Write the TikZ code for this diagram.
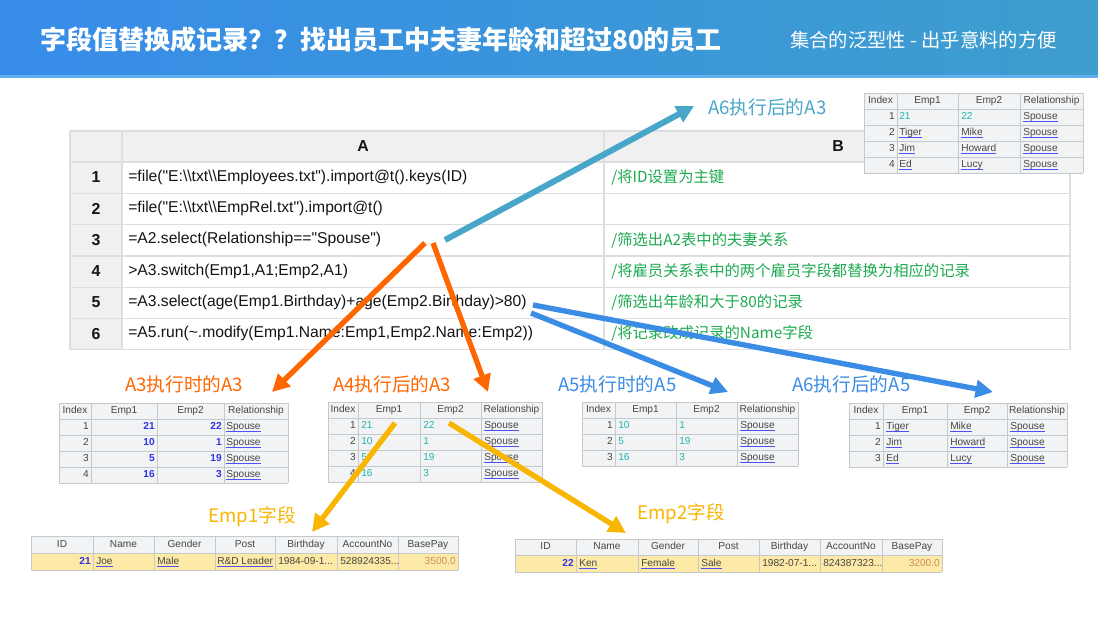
\documentclass[tikz,border=0pt]{standalone}
\usepackage{fontspec}
\setmainfont{Liberation Sans}
\newfontfamily\codefont{Liberation Sans}
\newfontfamily\cjk{Noto Sans CJK SC}
\usetikzlibrary{arrows.meta}

\definecolor{hdrleft}{RGB}{55,140,233}
\definecolor{hdrright}{RGB}{62,158,205}
\definecolor{hdrline}{RGB}{100,175,240}
\definecolor{hdrgray}{RGB}{240,240,240}
\definecolor{maingrid}{RGB}{220,222,224}
\definecolor{codeblack}{RGB}{20,20,20}
\definecolor{cmtgreen}{RGB}{30,170,80}
\definecolor{tabbg}{RGB}{242,243,244}
\definecolor{tabgridc}{RGB}{196,201,205}
\definecolor{celltext}{RGB}{70,70,70}
\definecolor{numblue}{RGB}{50,50,230}
\definecolor{tealnum}{RGB}{35,180,180}
\definecolor{linkblue}{RGB}{80,80,245}
\definecolor{payrow}{RGB}{253,234,166}
\definecolor{paybrown}{RGB}{200,140,100}
\definecolor{orangec}{RGB}{255,102,0}
\definecolor{tealc}{RGB}{72,166,200}
\definecolor{bluec}{RGB}{58,140,228}
\definecolor{yellowc}{RGB}{248,182,0}

\newcommand{\lnk}[1]{\setbox0\hbox{#1}\rlap{\textcolor{linkblue}{\rule[-1.9pt]{\wd0}{0.75pt}}}\box0}
\newcommand{\bs}{\textbackslash}

% grid of a small table: x0, y0, x1, y1, column xs, row ys
\newcommand{\tabgrid}[6]{%
  \foreach \gx in {#5} {\draw[tabline] (\gx,#2) -- (\gx,#4);}
  \foreach \gy in {#6} {\draw[tabline] (#1,\gy) -- (#3,\gy);}
}

\begin{document}
\begin{tikzpicture}[
  x=0.75pt, y=-0.75pt,
  codetxt/.style={anchor=west, inner sep=0pt, text height=8.6pt, text depth=2.5pt,
    font=\codefont\fontsize{11.75}{14}\selectfont, text=codeblack},
  cmttxt/.style={anchor=west, inner sep=0pt, font=\cjk\fontsize{11.5}{14}\selectfont, text=cmtgreen},
  rownum/.style={inner sep=0pt, font=\fontsize{11.9}{14}\selectfont\bfseries, text=codeblack},
  cell/.style={inner sep=0pt, text height=5.6pt, text depth=1.6pt,
    font=\fontsize{7.6}{9}\selectfont, text=celltext},
  cellr/.style={cell, anchor=east},
  celll/.style={cell, anchor=west},
  numcell/.style={cellr, text=numblue, font=\fontsize{7.6}{9}\selectfont\bfseries},
  tealcell/.style={celll, text=tealnum},
  notetxt/.style={anchor=west, inner sep=0pt, font=\cjk\fontsize{14}{16}\selectfont},
  mainline/.style={draw=maingrid, line width=0.9pt},
  tabline/.style={draw=tabgridc, line width=0.7pt},
  bigarrow/.style={line width=4pt, -{Triangle[length=13pt,width=13pt]}},
]
  \useasboundingbox[fill=white] (0,0) rectangle (1098,617);

  % header band
  \shade[left color=hdrleft, right color=hdrright] (0,0) rectangle (1098,77);
  \fill[hdrline] (0,75) rectangle (1098,78);
  \node[anchor=west, inner sep=0pt, text=white, font=\cjk\bfseries\fontsize{19.5}{22}\selectfont]
    (title) at (40,40) {字段值替换成记录？？找出员工中夫妻年龄和超过80的员工};
  \node[anchor=west, inner sep=0pt, text=white, font=\cjk\fontsize{14.5}{17}\selectfont]
    (subtitle) at (790,40) {集合的泛型性 - 出乎意料的方便};

  % main table
  \fill[hdrgray] (70,131) rectangle (1070,162);
  \fill[hdrgray] (70,162) rectangle (122,349.8);
  \foreach \y in {131,162,193.3,224.6,255.9,287.2,318.5,349.8}
    \draw[mainline] (70,\y) -- (1070,\y);
  \foreach \x in {70,122,604,1070}
    \draw[mainline] (\x,131) -- (\x,349.8);
  \node[rownum] (colA) at (363,146) {A};
  \node[rownum] (colB) at (838,146) {B};
  \foreach \r in {1,...,6}
    \node[rownum] (n\r) at (96,{146+31.3*\r}) {\r};

  \node[codetxt] (a1) at (128,177.3) {=file("E:\bs\bs txt\bs\bs Employees.txt").import@t().keys(ID)};
  \node[codetxt] (a2) at (128,208.6) {=file("E:\bs\bs txt\bs\bs EmpRel.txt").import@t()};
  \node[codetxt] (a3) at (128,239.9) {=A2.select(Relationship=="Spouse")};
  \node[codetxt] (a4) at (128,271.2) {>A3.switch(Emp1,A1;Emp2,A1)};
  \node[codetxt] (a5) at (128,302.5) {=A3.select(age(Emp1.Birthday)+age(Emp2.Birthday)>80)};
  \node[codetxt] (a6) at (128,333.8) {=A5.run(\textasciitilde.modify(Emp1.Name:Emp1,Emp2.Name:Emp2))};

  \node[cmttxt] (b1) at (611,177.3) {/将ID设置为主键};
  \node[cmttxt] (b3) at (611,239.9) {/筛选出A2表中的夫妻关系};
  \node[cmttxt] (b4) at (611,271.2) {/将雇员关系表中的两个雇员字段都替换为相应的记录};
  \node[cmttxt] (b5) at (611,302.5) {/筛选出年龄和大于80的记录};
  \node[cmttxt] (b6) at (611,333.8) {/将记录改成记录的Name字段};

  % A6 result of A3, top right
  \fill[tabbg] (864,93) rectangle (1083,173);
  \tabgrid{864}{93}{1083}{173}{864,897,958,1020,1083}{93,109,125,141,157,173}
  \foreach \h/\cx [count=\i] in {Index/880.5, Emp1/927.5, Emp2/989, Relationship/1051.5}
    \node[cell] (t0h\i) at (\cx,101) {\h};
  \node[cellr] (t0i1) at (895,117) {1};
  \node[tealcell] (t0a1) at (899,117) {21};
  \node[tealcell] (t0b1) at (961,117) {22};
  \node[celll] (t0c1) at (1023,117) {\lnk{Spouse}};
  \foreach \r/\p/\q in {2/Tiger/Mike, 3/Jim/Howard, 4/Ed/Lucy} {
    \node[cellr] (t0i\r) at (895,{101+16*\r}) {\r};
    \node[celll] (t0a\r) at (899,{101+16*\r}) {\lnk{\p}};
    \node[celll] (t0b\r) at (961,{101+16*\r}) {\lnk{\q}};
    \node[celll] (t0c\r) at (1023,{101+16*\r}) {\lnk{Spouse}};
  }

  % A3 while running
  \fill[tabbg] (59,403) rectangle (288,483);
  \tabgrid{59}{403}{288}{483}{59,91,157,224,288}{403,419,435,451,467,483}
  \foreach \h/\cx [count=\i] in {Index/75, Emp1/124, Emp2/190.5, Relationship/256}
    \node[cell] (t1h\i) at (\cx,411) {\h};
  \foreach \r/\p/\q in {1/21/22, 2/10/1, 3/5/19, 4/16/3} {
    \node[cellr] (t1i\r) at (89,{411+16*\r}) {\r};
    \node[numcell] (t1a\r) at (155,{411+16*\r}) {\p};
    \node[numcell] (t1b\r) at (222,{411+16*\r}) {\q};
    \node[celll] (t1c\r) at (226,{411+16*\r}) {\lnk{Spouse}};
  }

  % A3 after A4
  \fill[tabbg] (328,402) rectangle (542,482);
  \tabgrid{328}{402}{542}{482}{328,358,420,481,542}{402,418,434,450,466,482}
  \foreach \h/\cx [count=\i] in {Index/343, Emp1/389, Emp2/450.5, Relationship/511.5}
    \node[cell] (t2h\i) at (\cx,410) {\h};
  \foreach \r/\p/\q in {1/21/22, 2/10/1, 3/5/19, 4/16/3} {
    \node[cellr] (t2i\r) at (356,{410+16*\r}) {\r};
    \node[tealcell] (t2a\r) at (361,{410+16*\r}) {\p};
    \node[tealcell] (t2b\r) at (423,{410+16*\r}) {\q};
    \node[celll] (t2c\r) at (484,{410+16*\r}) {\lnk{Spouse}};
  }

  % A5 while running
  \fill[tabbg] (582,402) rectangle (798,466);
  \tabgrid{582}{402}{798}{466}{582,615,676,737,798}{402,418,434,450,466}
  \foreach \h/\cx [count=\i] in {Index/598.5, Emp1/645.5, Emp2/706.5, Relationship/767.5}
    \node[cell] (t3h\i) at (\cx,410) {\h};
  \foreach \r/\p/\q in {1/10/1, 2/5/19, 3/16/3} {
    \node[cellr] (t3i\r) at (613,{410+16*\r}) {\r};
    \node[tealcell] (t3a\r) at (618,{410+16*\r}) {\p};
    \node[tealcell] (t3b\r) at (679,{410+16*\r}) {\q};
    \node[celll] (t3c\r) at (740,{410+16*\r}) {\lnk{Spouse}};
  }

  % A5 after A6
  \fill[tabbg] (849,403) rectangle (1067,467);
  \tabgrid{849}{403}{1067}{467}{849,883,947,1007,1067}{403,419,435,451,467}
  \foreach \h/\cx [count=\i] in {Index/866, Emp1/915, Emp2/977, Relationship/1037}
    \node[cell] (t4h\i) at (\cx,411) {\h};
  \foreach \r/\p/\q in {1/Tiger/Mike, 2/Jim/Howard, 3/Ed/Lucy} {
    \node[cellr] (t4i\r) at (881,{411+16*\r}) {\r};
    \node[celll] (t4a\r) at (886,{411+16*\r}) {\lnk{\p}};
    \node[celll] (t4b\r) at (950,{411+16*\r}) {\lnk{\q}};
    \node[celll] (t4c\r) at (1010,{411+16*\r}) {\lnk{Spouse}};
  }

  % Emp1 record
  \fill[tabbg] (31,536) rectangle (458,553);
  \fill[payrow] (31,553) rectangle (458,570);
  \tabgrid{31}{536}{458}{570}{31,93,154,215,275,337,398,458}{536,553,570}
  \foreach \h/\cx [count=\i] in {ID/62, Name/123.5, Gender/184.5, Post/245, Birthday/306, AccountNo/367.5, BasePay/428}
    \node[cell] (t5h\i) at (\cx,544.5) {\h};
  \node[numcell] (t5v1) at (91,561.5) {21};
  \node[celll] (t5v2) at (96,561.5) {\lnk{Joe}};
  \node[celll] (t5v3) at (157,561.5) {\lnk{Male}};
  \node[celll] (t5v4) at (217,561.5) {\lnk{R\&D Leader}};
  \node[celll] (t5v5) at (278,561.5) {1984-09-1...};
  \node[celll] (t5v6) at (340,561.5) {528924335...};
  \node[cellr, text=paybrown] (t5v7) at (456,561.5) {3500.0};

  % Emp2 record
  \fill[tabbg] (515,539) rectangle (942,555);
  \fill[payrow] (515,555) rectangle (942,572);
  \tabgrid{515}{539}{942}{572}{515,576,638,698,759,820,882,942}{539,555,572}
  \foreach \h/\cx [count=\i] in {ID/545.5, Name/607, Gender/668, Post/728.5, Birthday/789.5, AccountNo/851, BasePay/912}
    \node[cell] (t6h\i) at (\cx,547) {\h};
  \node[numcell] (t6v1) at (574,563.5) {22};
  \node[celll] (t6v2) at (579,563.5) {\lnk{Ken}};
  \node[celll] (t6v3) at (641,563.5) {\lnk{Female}};
  \node[celll] (t6v4) at (701,563.5) {\lnk{Sale}};
  \node[celll] (t6v5) at (762,563.5) {1982-07-1...};
  \node[celll] (t6v6) at (823,563.5) {824387323...};
  \node[cellr, text=paybrown] (t6v7) at (940,563.5) {3200.0};

  % captions
  \node[notetxt, text=tealc] (capA6A3) at (708,107) {A6执行后的A3};
  \node[notetxt, text=orangec] (capA3) at (125,384) {A3执行时的A3};
  \node[notetxt, text=orangec] (capA4) at (333,384) {A4执行后的A3};
  \node[notetxt, text=bluec] (capA5) at (558,384) {A5执行时的A5};
  \node[notetxt, text=bluec] (capA6A5) at (792,384) {A6执行后的A5};
  \node[notetxt, text=yellowc] (capE1) at (208,517) {Emp1字段};
  \node[notetxt, text=yellowc] (capE2) at (637,514) {Emp2字段};

  % arrows
  \coordinate (s1) at (445,240);  \coordinate (e1) at (694,106);
  \coordinate (s2) at (425,243);  \coordinate (e2) at (272,392);
  \coordinate (s3) at (433,243);  \coordinate (e3) at (488,392);
  \coordinate (s4) at (531,313);  \coordinate (e4) at (728,392);
  \coordinate (s5) at (533,305);  \coordinate (e5) at (993,392);
  \coordinate (s6) at (395,423);  \coordinate (e6) at (312,532);
  \coordinate (s7) at (449,423);  \coordinate (e7) at (626,533);

  \draw[bigarrow, tealc, line width=4.5pt] (s1) -- (e1);
  \draw[bigarrow, orangec] (s2) -- (e2);
  \draw[bigarrow, orangec] (s3) -- (e3);
  \draw[bigarrow, bluec] (s4) -- (e4);
  \draw[bigarrow, bluec] (s5) -- (e5);
  \draw[bigarrow, yellowc] (s6) -- (e6);
  \draw[bigarrow, yellowc] (s7) -- (e7);
\end{tikzpicture}
\end{document}
